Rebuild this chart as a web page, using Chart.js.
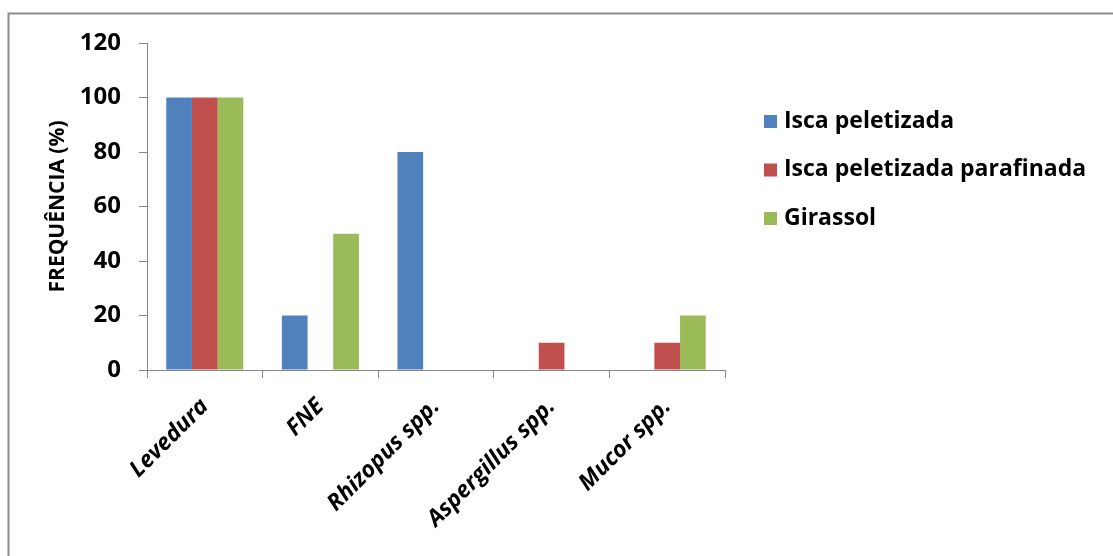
<!DOCTYPE html>
<html>
<head>
<meta charset="utf-8">
<script src="https://cdn.jsdelivr.net/npm/chart.js@4"></script>
<style>
  html, body { margin: 0; padding: 0; background: #fff; }
  #wrap { width: 1113px; height: 556px; }
</style>
</head>
<body>
<div id="wrap"><canvas id="chart"></canvas></div>
<script>
const categories = ["Levedura", "FNE", "Rhizopus spp.", "Aspergillus spp.", "Mucor spp."];
const iscaPeletizada = [100, 20, 80, 0, 0];
const iscaParafinada = [100, 0, 0, 10, 10];
const girassol = [100, 50, 0, 0, 20];
const seriesNames = ["Isca peletizada", "Isca peletizada parafinada", "Girassol"];
const seriesColors = ["#4F81BD", "#C0504D", "#9BBB59"];
const yTicks = [0, 20, 40, 60, 80, 100, 120];

const FONT = "'Open Sans', sans-serif";

// outer frame (only top and left edges visible in the original)
const framePlugin = {
  id: 'frame',
  beforeDraw(chart) {
    const ctx = chart.ctx;
    ctx.save();
    ctx.strokeStyle = '#8c8c8c';
    ctx.lineWidth = 2;
    ctx.beginPath();
    ctx.moveTo(8.5, 556);
    ctx.lineTo(8.5, 13.5);
    ctx.lineTo(1113, 13.5);
    ctx.stroke();
    ctx.restore();
  }
};

// legend to the right of the plot
const legendPlugin = {
  id: 'sideLegend',
  afterDraw(chart) {
    const ctx = chart.ctx;
    ctx.save();
    ctx.font = "bold 23px " + FONT;
    ctx.textBaseline = 'middle';
    chart.data.datasets.forEach((ds, i) => {
      const y = 121 + i * 48.5;
      ctx.fillStyle = ds.backgroundColor;
      ctx.fillRect(764, y - 6, 13, 13);
      ctx.fillStyle = '#000';
      ctx.fillText(ds.label, 784, y);
    });
    ctx.restore();
  }
};

new Chart(document.getElementById('chart'), {
  type: 'bar',
  data: {
    labels: categories,
    datasets: [iscaPeletizada, iscaParafinada, girassol].map((d, i) => ({
      label: seriesNames[i],
      data: d,
      backgroundColor: seriesColors[i],
      categoryPercentage: 3 / 4.5,
      barPercentage: 1
    }))
  },
  options: {
    responsive: true,
    maintainAspectRatio: false,
    animation: false,
    layout: { padding: { left: 0, top: 43, right: 388, bottom: 0 } },
    plugins: {
      legend: { display: false },
      tooltip: { enabled: false }
    },
    scales: {
      x: {
        offset: true,
        grid: { offset: true, drawOnChartArea: false, drawTicks: true, tickLength: 8, color: '#868686' },
        border: { color: '#868686', width: 1 },
        ticks: {
          maxRotation: 45, minRotation: 45,
          padding: 15,
          color: '#000',
          font: { family: FONT, size: 23, weight: 'bold', style: 'italic' }
        },
        afterFit(scale) { scale.height = 186; }
      },
      y: {
        min: 0, max: 120,
        afterBuildTicks(scale) { scale.ticks = yTicks.map(v => ({ value: v })); },
        grid: { drawOnChartArea: false, drawTicks: true, tickLength: 8, color: '#868686' },
        border: { color: '#868686', width: 1 },
        ticks: {
          padding: 18,
          color: '#000',
          font: { family: FONT, size: 24, weight: 'bold' }
        },
        title: {
          display: true,
          text: 'FREQUÊNCIA (%)',
          color: '#000',
          padding: { top: 45, bottom: 0 },
          font: { family: FONT, size: 21, weight: 'bold' }
        },
        afterFit(scale) { scale.width = 147; }
      }
    }
  },
  plugins: [framePlugin, legendPlugin]
});
</script>
</body>
</html>
